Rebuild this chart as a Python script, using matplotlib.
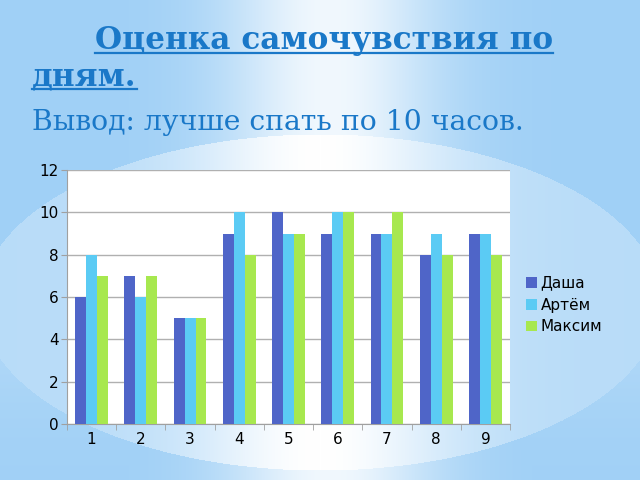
import numpy as np
import matplotlib
matplotlib.use('Agg')
from matplotlib import pyplot as plt
from matplotlib.lines import Line2D

# data
days = ['1', '2', '3', '4', '5', '6', '7', '8', '9']
dasha = [6, 7, 5, 9, 10, 9, 9, 8, 9]
artem = [8, 6, 5, 10, 9, 10, 9, 9, 9]
maksim = [7, 7, 5, 8, 9, 10, 10, 8, 8]
names = ['Даша', 'Артём', 'Максим']
colors = ['#4F65C8', '#5BCBF4', '#A7E84F']

W, H = 640, 480
fig = plt.figure(figsize=(6.4, 4.8), dpi=100)

# background: blue with a light vertical glow and a pale oval behind the chart
xx, yy = np.meshgrid(np.arange(W), np.arange(H))
edge = np.array([160, 208, 246]) / 255.0
glow = 0.85 * np.exp(-((xx - 330) / 105.0) ** 2)
band = np.where(yy > 263, 0.2 * np.exp(-((yy - 300) / 110.0) ** 2), 0.0)
glow = np.maximum(glow, band)
inside = ((xx - 320) / 340.0) ** 2 + ((yy - 302) / 168.0) ** 2 < 1
glow_in = 0.26 + 0.74 * np.exp(-((xx - 320) / 130.0) ** 2)
glow = np.where(inside, np.maximum(glow, glow_in), glow)
img = edge[None, None, :] + (1 - edge)[None, None, :] * glow[:, :, None]

bg = fig.add_axes([0, 0, 1, 1])
bg.imshow(img, aspect='auto', extent=[0, W, H, 0])
bg.set_xlim(0, W)
bg.set_ylim(H, 0)
bg.axis('off')

# title texts
blue = '#1A78C8'
t1 = fig.text(95 / W, 1 - 49 / H, 'Оценка самочувствия по', color=blue,
              family='DejaVu Serif', fontweight='bold', fontsize=22.4, va='baseline')
t2 = fig.text(32 / W, 1 - 86 / H, 'дням.', color=blue,
              family='DejaVu Serif', fontweight='bold', fontsize=22.4, va='baseline')
fig.text(32 / W, 1 - 130 / H, 'Вывод: лучше спать по 10 часов.', color=blue,
         family='DejaVu Serif', fontsize=20.3, va='baseline')

# underline the title
r = fig.canvas.get_renderer()
for t, yline in [(t1, 53), (t2, 89)]:
    bb = t.get_window_extent(r)
    fig.add_artist(Line2D([bb.x0 / W, bb.x1 / W], [1 - yline / H, 1 - yline / H],
                          color=blue, lw=1.6, transform=fig.transFigure))

# chart
ax = fig.add_axes([67 / W, 1 - 424 / H, 443 / W, 254 / H])
ax.set_facecolor('white')
x = np.arange(len(days))
bw = 0.222
for i, (vals, name) in enumerate(zip([dasha, artem, maksim], names)):
    ax.bar(x + (i - 1) * bw, vals, bw, color=colors[i], label=name, zorder=3)

ax.set_xlim(-0.5, len(days) - 0.5)
ax.set_ylim(0, 12)
ax.set_yticks(range(0, 13, 2))
ax.set_xticks(x)
ax.set_xticklabels(days)
ax.set_xticks(np.arange(-0.5, len(days), 1), minor=True)
ax.tick_params(axis='x', which='major', length=0, labelsize=11, pad=6)
ax.tick_params(axis='x', which='minor', length=4, color='#A0A0A0')
ax.tick_params(axis='y', length=4, color='#A0A0A0', labelsize=11, pad=2)
ax.grid(axis='y', color='#B0B0B0', lw=1, zorder=0)
for s in ['top', 'right']:
    ax.spines[s].set_visible(False)
for s in ['left', 'bottom']:
    ax.spines[s].set_color('#A0A0A0')

fig.legend(loc='center left', bbox_to_anchor=(526 / W, 1 - 305 / H), frameon=False,
           fontsize=11, handlelength=0.7, handleheight=0.7, handletextpad=0.25,
           labelspacing=0.45, borderpad=0, borderaxespad=0)

fig.savefig('out.png', dpi=100)
